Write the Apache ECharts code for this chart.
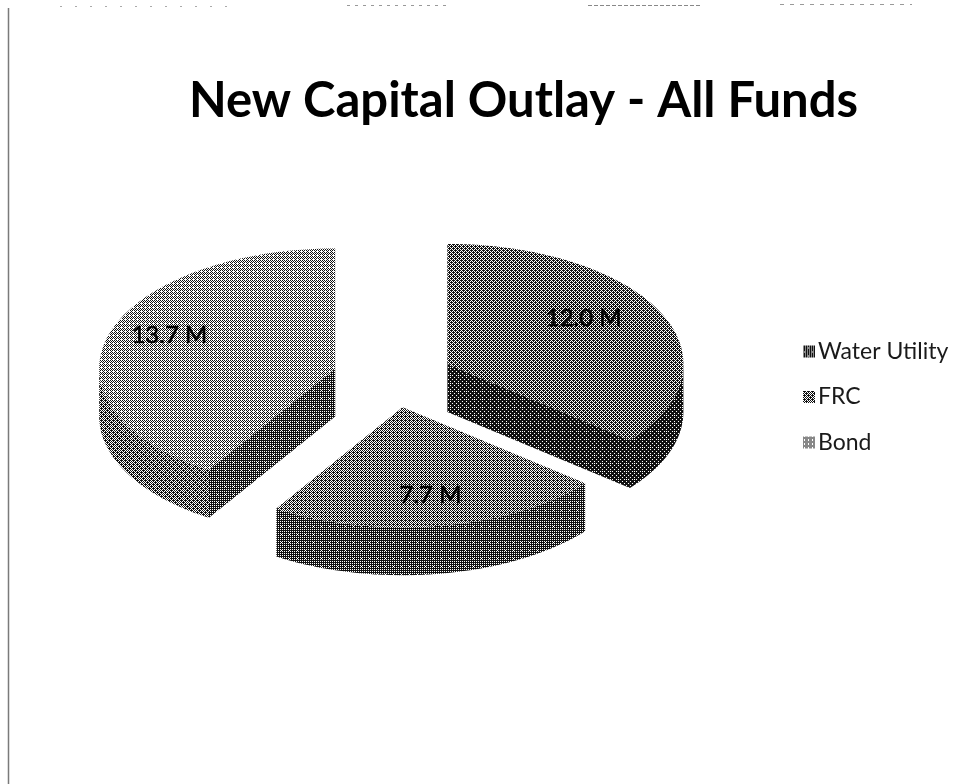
<!DOCTYPE html>
<html>
<head>
<meta charset="utf-8">
<title>New Capital Outlay - All Funds</title>
<script src="https://cdn.jsdelivr.net/npm/echarts@6/dist/echarts.min.js"></script>
<style>
  html, body { margin: 0; padding: 0; background: #fff; }
  #chart { width: 961px; height: 784px; }
</style>
</head>
<body>
<div id="chart"></div>
<script>
// Fund categories and their outlay in millions
const categories = ['Water Utility', 'FRC', 'Bond'];
const outlay = [12.0, 7.7, 13.7];
const valueLabels = ['12.0 M', '7.7 M', '13.7 M'];

// Share of ink for each face of each slice (0 = white, 1 = black)
const topInk = [0.62, 0.57, 0.44];
const rimInk = [0.86, 0.73, 0.60];
const wallInk = [0.86, 0.73, 0.73];
const legendInk = [0.72, 0.60, 0.44];

// Where each value label sits: clock angle in degrees and fraction of the radius
const labelAngle = [56.8, 170.8, 291.4];
const labelReach = [0.69, 0.74, 0.755];

// Projection of the tilted pie
const pie = { cx: 393, cy: 377, a: 236, b: 120, depth: 48, explode: 0.255 };

// 8x8 ordered-dither threshold matrix for the print-like shading
const BAYER = [
  [0, 32, 8, 40, 2, 34, 10, 42],
  [48, 16, 56, 24, 50, 18, 58, 26],
  [12, 44, 4, 36, 14, 46, 6, 38],
  [60, 28, 52, 20, 62, 30, 54, 22],
  [3, 35, 11, 43, 1, 33, 9, 41],
  [51, 19, 59, 27, 49, 17, 57, 25],
  [15, 47, 7, 39, 13, 45, 5, 37],
  [63, 31, 55, 23, 61, 29, 53, 21]
];

function ditherFill(ink) {
  const tile = document.createElement('canvas');
  tile.width = tile.height = 8;
  const ctx = tile.getContext('2d');
  ctx.fillStyle = '#fff';
  ctx.fillRect(0, 0, 8, 8);
  ctx.fillStyle = '#111';
  for (let y = 0; y < 8; y++) {
    for (let x = 0; x < 8; x++) {
      if ((BAYER[y][x] + 0.5) / 64 < ink) ctx.fillRect(x, y, 1, 1);
    }
  }
  return { image: tile, repeat: 'repeat' };
}

const total = outlay.reduce((s, v) => s + v, 0);
const rad = deg => deg * Math.PI / 180;

// Clock-style start angles, beginning at twelve o'clock
const startAngles = [];
outlay.reduce((start, v) => {
  startAngles.push(start);
  return start + v / total * 360;
}, 0);

function project(apex, deg, reach, drop) {
  return [
    apex[0] + reach * pie.a * Math.sin(rad(deg)),
    apex[1] - reach * pie.b * Math.cos(rad(deg)) + drop
  ];
}

function arcPoints(apex, from, to, drop) {
  const pts = [];
  const steps = Math.max(2, Math.ceil(Math.abs(to - from) / 2));
  for (let i = 0; i <= steps; i++) {
    pts.push(project(apex, from + (to - from) * i / steps, 1, drop));
  }
  return pts;
}

function polygon(points, fill, z2) {
  return { type: 'polygon', z2, shape: { points }, style: { fill, stroke: null } };
}

function renderSlice(index, api) {
  const share = api.value(0) / total * 360;
  const start = startAngles[index];
  const end = start + share;
  const mid = start + share / 2;
  const apex = project([pie.cx, pie.cy], mid, pie.explode, 0);
  const children = [];

  // Outer rim, visible only on the near half of the circle
  const rimFrom = Math.max(start, 90);
  const rimTo = Math.min(end, 270);
  if (rimTo > rimFrom) {
    const upper = arcPoints(apex, rimFrom, rimTo, 0);
    const lower = arcPoints(apex, rimFrom, rimTo, pie.depth).reverse();
    children.push(polygon(upper.concat(lower), rimFills[index], 1));
  }

  // Cut faces whose outward normal turns toward the viewer
  [[start, start - 90], [end, end + 90]].forEach(([deg, normal]) => {
    if (-Math.cos(rad(normal)) > 0.01) {
      const rimTop = project(apex, deg, 1, 0);
      const rimBottom = project(apex, deg, 1, pie.depth);
      children.push(polygon(
        [apex, rimTop, rimBottom, [apex[0], apex[1] + pie.depth]],
        wallFills[index], 2));
    }
  });

  // Top face
  children.push(polygon([apex].concat(arcPoints(apex, start, end, 0)), topFills[index], 3));

  // Value label
  const anchor = project(apex, labelAngle[index], labelReach[index], 0);
  children.push({
    type: 'text', z2: 5,
    style: {
      x: anchor[0], y: anchor[1],
      text: valueLabels[index],
      fill: '#000',
      font: '24px Lato',
      stroke: '#000', lineWidth: 0.6,
      align: 'center', verticalAlign: 'middle'
    }
  });
  return { type: 'group', children };
}

const topFills = topInk.map(ditherFill);
const rimFills = rimInk.map(ditherFill);
const wallFills = wallInk.map(ditherFill);
const legendFills = legendInk.map(ditherFill);

const chart = echarts.init(document.getElementById('chart'), null, { renderer: 'canvas' });

chart.setOption({
  animation: false,
  backgroundColor: '#fff',
  title: {
    text: 'New Capital Outlay - All Funds',
    left: 184, top: 72,
    textStyle: { fontFamily: 'Lato', fontWeight: 'bold', fontSize: 49, color: '#000' }
  },
  legend: {
    orient: 'vertical',
    left: 798, top: 335,
    itemWidth: 12, itemHeight: 12, itemGap: 22.5,
    icon: 'rect',
    data: categories,
    textStyle: { fontFamily: 'Lato', fontSize: 23, color: '#1a1a1a', padding: [0, 0, 0, -2] }
  },
  series: categories.map((name, i) => ({
    type: 'custom',
    name,
    coordinateSystem: 'none',
    itemStyle: { color: legendFills[i] },
    renderItem: (params, api) => renderSlice(i, api),
    data: [[outlay[i]]]
  })),
  graphic: [
    // Page edge and the clipped header left at the top of the sheet
    { type: 'line', shape: { x1: 8.5, y1: 8, x2: 8.5, y2: 784 }, style: { stroke: '#7a7a7a', lineWidth: 1.5 } },
    { type: 'line', shape: { x1: 60, y1: 6.5, x2: 232, y2: 6.5 }, style: { stroke: '#aaa', lineWidth: 1, lineDash: [2, 13] } },
    { type: 'line', shape: { x1: 347, y1: 5.5, x2: 446, y2: 5.5 }, style: { stroke: '#999', lineWidth: 1, lineDash: [3, 5] } },
    { type: 'line', shape: { x1: 588, y1: 5.5, x2: 702, y2: 5.5 }, style: { stroke: '#888', lineWidth: 1, lineDash: [4, 2] } },
    { type: 'line', shape: { x1: 780, y1: 4.5, x2: 912, y2: 4.5 }, style: { stroke: '#999', lineWidth: 1, lineDash: [4, 6] } }
  ]
});
</script>
</body>
</html>
